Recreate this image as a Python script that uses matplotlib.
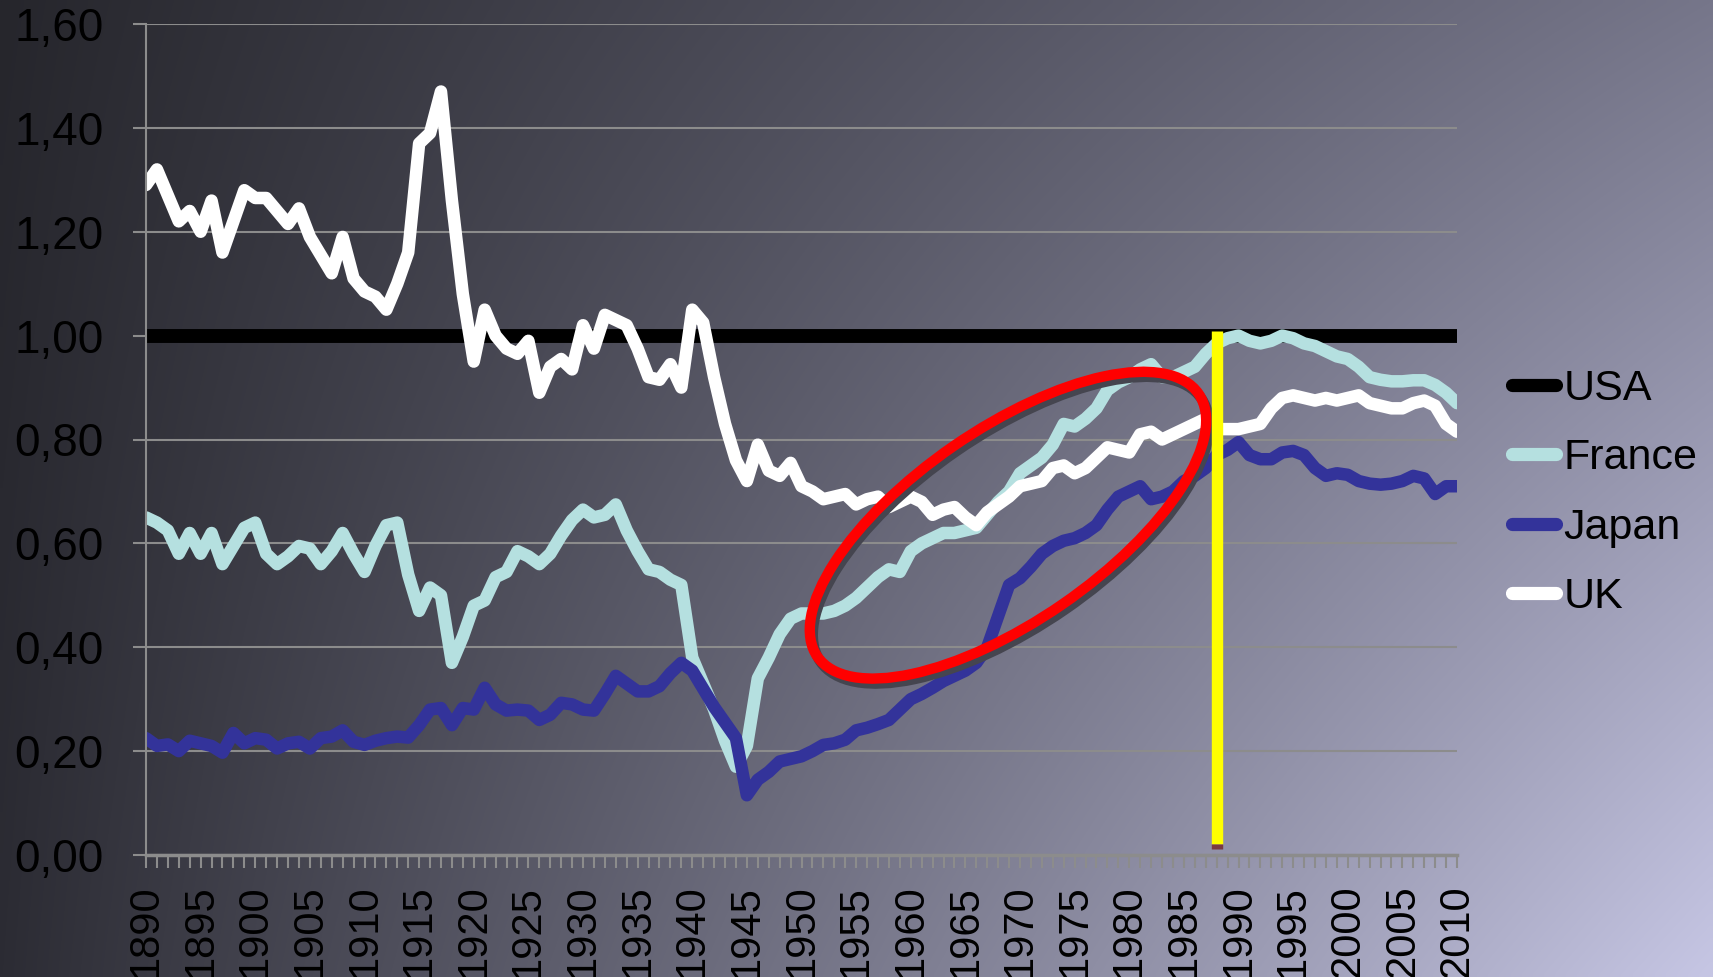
import matplotlib
matplotlib.use('Agg')
import matplotlib.pyplot as plt
import numpy as np
from matplotlib.patches import Ellipse
from matplotlib.ticker import MultipleLocator, FuncFormatter
from matplotlib.transforms import ScaledTranslation, Affine2D

plt.rcParams['font.family'] = ['Liberation Sans', 'DejaVu Sans']

# data (relative to USA = 1)
years = list(range(1890, 2011))
usa = [1.0] * len(years)
france = [
    0.65, 0.64, 0.625, 0.58, 0.62, 0.58, 0.62, 0.56, 0.595, 0.63,
    0.64, 0.58, 0.56, 0.575, 0.595, 0.59, 0.56, 0.585, 0.62, 0.58,
    0.545, 0.595, 0.635, 0.64, 0.54, 0.47, 0.515, 0.50, 0.37, 0.42,
    0.48, 0.49, 0.535, 0.545, 0.585, 0.575, 0.56, 0.58, 0.615, 0.645,
    0.665, 0.65, 0.655, 0.675, 0.625, 0.585, 0.55, 0.545, 0.53, 0.52,
    0.38, 0.33, 0.28, 0.22, 0.17, 0.21, 0.34, 0.38, 0.425, 0.455,
    0.465, 0.465, 0.465, 0.47, 0.48, 0.495, 0.515, 0.535, 0.55, 0.545,
    0.585, 0.60, 0.61, 0.62, 0.62, 0.625, 0.63, 0.655, 0.68, 0.70,
    0.735, 0.75, 0.765, 0.79, 0.83, 0.825, 0.84, 0.86, 0.895, 0.91,
    0.92, 0.935, 0.945, 0.92, 0.92, 0.93, 0.94, 0.965, 0.985, 0.995,
    1.0, 0.99, 0.985, 0.99, 1.0, 0.995, 0.985, 0.98, 0.97, 0.96,
    0.955, 0.94, 0.92, 0.915, 0.912, 0.912, 0.914, 0.914, 0.905, 0.89,
    0.87]
japan = [
    0.225, 0.21, 0.213, 0.20, 0.22, 0.215, 0.21, 0.197, 0.235, 0.215,
    0.225, 0.222, 0.205, 0.215, 0.218, 0.205, 0.225, 0.228, 0.24, 0.218,
    0.212, 0.22, 0.225, 0.228, 0.226, 0.25, 0.28, 0.283, 0.25, 0.283,
    0.28, 0.322, 0.29, 0.278, 0.28, 0.278, 0.26, 0.27, 0.293, 0.29,
    0.28, 0.278, 0.31, 0.345, 0.33, 0.315, 0.315, 0.325, 0.35, 0.37,
    0.355, 0.32, 0.285, 0.255, 0.225, 0.115, 0.145, 0.16, 0.18, 0.185,
    0.19, 0.20, 0.212, 0.215, 0.222, 0.24, 0.245, 0.252, 0.26, 0.28,
    0.30, 0.31, 0.322, 0.335, 0.345, 0.355, 0.37, 0.40, 0.46, 0.52,
    0.533, 0.555, 0.58, 0.595, 0.605, 0.61, 0.62, 0.635, 0.665, 0.69,
    0.70, 0.71, 0.685, 0.69, 0.70, 0.72, 0.73, 0.745, 0.77, 0.78,
    0.795, 0.77, 0.762, 0.762, 0.775, 0.778, 0.77, 0.745, 0.73, 0.735,
    0.732, 0.72, 0.715, 0.713, 0.715, 0.72, 0.73, 0.725, 0.695, 0.71,
    0.71]
uk = [
    1.29, 1.32, 1.27, 1.22, 1.24, 1.20, 1.26, 1.16, 1.22, 1.28,
    1.265, 1.265, 1.24, 1.215, 1.245, 1.19, 1.155, 1.12, 1.19, 1.11,
    1.085, 1.075, 1.05, 1.10, 1.16, 1.37, 1.39, 1.47, 1.26, 1.08,
    0.95, 1.05, 1.00, 0.975, 0.965, 0.99, 0.89, 0.94, 0.955, 0.935,
    1.02, 0.975, 1.04, 1.03, 1.02, 0.975, 0.92, 0.915, 0.945, 0.90,
    1.05, 1.025, 0.92, 0.83, 0.76, 0.72, 0.79, 0.74, 0.73, 0.755,
    0.71, 0.70, 0.685, 0.69, 0.695, 0.675, 0.685, 0.69, 0.67, 0.68,
    0.69, 0.68, 0.655, 0.665, 0.67, 0.65, 0.635, 0.66, 0.675, 0.69,
    0.71, 0.715, 0.72, 0.745, 0.75, 0.735, 0.745, 0.765, 0.785, 0.78,
    0.775, 0.81, 0.815, 0.80, 0.81, 0.82, 0.83, 0.84, 0.82, 0.82,
    0.82, 0.825, 0.83, 0.86, 0.88, 0.885, 0.88, 0.875, 0.88, 0.875,
    0.88, 0.885, 0.87, 0.865, 0.86, 0.86, 0.87, 0.875, 0.865, 0.83,
    0.815]

series_names = ['USA', 'France', 'Japan', 'UK']
series_colors = ['#000000', '#b5e0e0', '#33339a', '#ffffff']
marker_year = 1988
circle_center = (1968.9, 0.635)

fig = plt.figure(figsize=(17.13, 9.77), dpi=100)

# gradient background (dark top-left -> lavender bottom-right)
bg = fig.add_axes([0, 0, 1, 1], zorder=-10)
gx = np.linspace(0, 1, 300)
gy = np.linspace(0, 1, 180)
X, Y = np.meshgrid(gx, gy)
tl = np.array([38, 38, 44]) / 255
tr = np.array([118, 118, 138]) / 255
bl = np.array([44, 44, 52]) / 255
br = np.array([198, 198, 228]) / 255
img = ((1 - X)[..., None] * (1 - Y)[..., None] * tl + X[..., None] * (1 - Y)[..., None] * tr
       + (1 - X)[..., None] * Y[..., None] * bl + X[..., None] * Y[..., None] * br)
bg.imshow(img, aspect='auto', interpolation='bilinear', extent=(0, 1, 1, 0))
bg.axis('off')

ax = fig.add_axes([146 / 1713, 1 - 855 / 977, (1457 - 146) / 1713, (855 - 24) / 977])
ax.set_facecolor('none')

lw = [10, 9, 9, 9]
for vals, name, col, w in zip([usa, france, japan, uk], series_names, series_colors, lw):
    ax.plot(years, vals, color=col, lw=w, label=name, solid_capstyle='round',
            solid_joinstyle='round')

# yellow marker line
ax.plot([marker_year, marker_year], [0.021, 1.009], color='#ffff00', lw=8.2,
        solid_capstyle='butt', zorder=6)
ax.plot([marker_year, marker_year], [0.011, 0.021], color='#7a3a40', lw=8.2,
        solid_capstyle='butt', zorder=6)

# red ellipse with shadow, sized in inches around a data point
base = fig.dpi_scale_trans + ScaledTranslation(circle_center[0], circle_center[1], ax.transData)
shadow = Ellipse((0, 0), 4.63, 1.92, angle=34.6, fill=False, ec='#45454f', lw=7.5,
                 transform=base + Affine2D().translate(3, -5), zorder=5)
ax.add_patch(shadow)
ring = Ellipse((0, 0), 4.63, 1.92, angle=34.6, fill=False, ec='#ff0000', lw=7.5,
               transform=base, zorder=5)
ax.add_patch(ring)

ax.set_xlim(1890, 2010)
ax.set_ylim(0, 1.6)
ax.yaxis.set_major_locator(MultipleLocator(0.2))
ax.yaxis.set_major_formatter(FuncFormatter(lambda v, p: f'{v:.2f}'.replace('.', ',')))
ax.xaxis.set_major_locator(MultipleLocator(5))
ax.xaxis.set_minor_locator(MultipleLocator(1))

grid_col = '#8c8c8c'
ax.grid(axis='y', color=grid_col, lw=1.5)
ax.set_axisbelow(True)
for s in ['top', 'right']:
    ax.spines[s].set_visible(False)
ax.spines['left'].set_color(grid_col)
ax.spines['left'].set_linewidth(1.5)
ax.spines['bottom'].set_color(grid_col)
ax.spines['bottom'].set_linewidth(2.5)

ax.tick_params(axis='y', which='major', direction='out', length=9.4, width=1.5,
               color=grid_col, labelsize=33, pad=21, labelcolor='black')
ax.tick_params(axis='x', which='both', direction='out', length=9.4, width=1.5,
               color=grid_col, labelsize=30, pad=12, labelcolor='black')
plt.setp(ax.get_xticklabels(), rotation=90)

leg = ax.legend(loc='center left', bbox_to_anchor=(1512 / 1713, 1 - 493 / 977),
                bbox_transform=fig.transFigure, frameon=False, fontsize=31,
                handlelength=1.02, handletextpad=0.17, labelspacing=0.68,
                borderpad=0, borderaxespad=0)
for h in leg.get_lines():
    h.set_solid_capstyle('round')
    h.set_linewidth(9.5)

fig.savefig('out.png', dpi=100)
